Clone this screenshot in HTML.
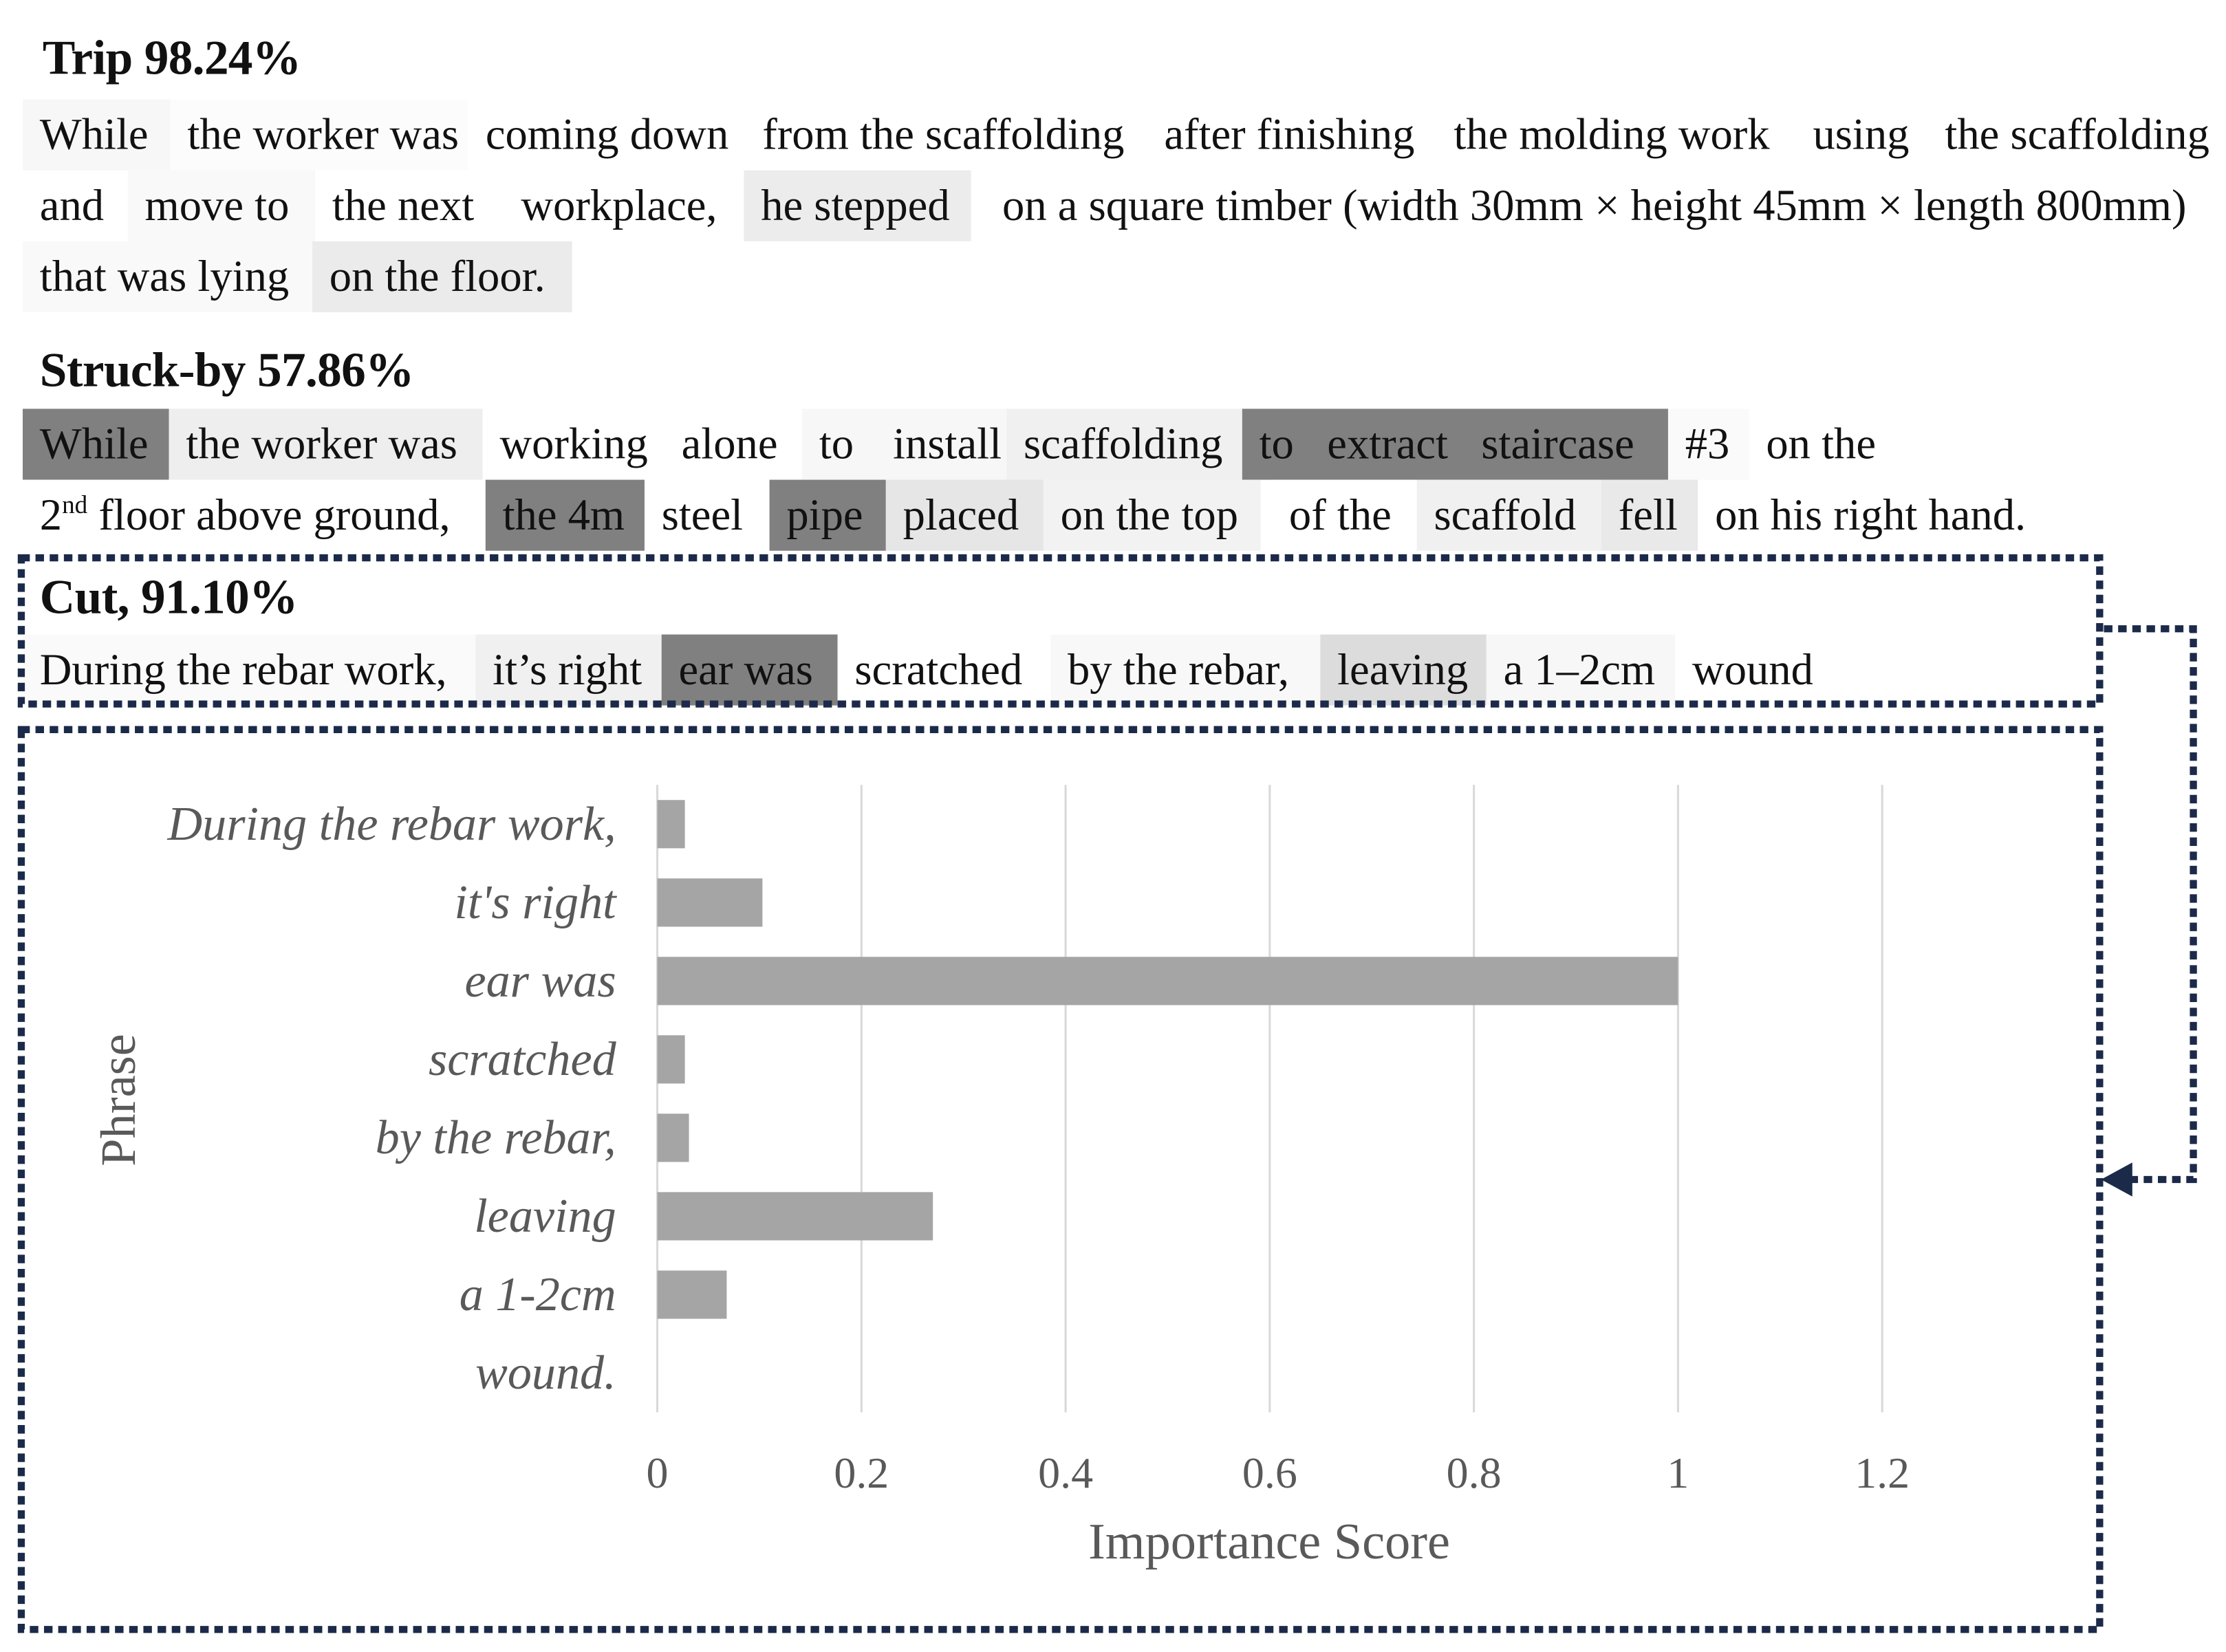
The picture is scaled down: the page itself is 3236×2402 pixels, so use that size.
<!DOCTYPE html>
<html><head><meta charset="utf-8">
<style>
html,body{margin:0;padding:0;background:#fff;width:3236px;height:2402px;overflow:hidden}
#wrap{position:absolute;left:0;top:0;width:1568px;height:1164px;transform:scale(2.0638);transform-origin:0 0;font-family:"Liberation Serif",serif;color:#111}
.t{position:absolute;font-weight:bold;font-size:34.5px;line-height:36px;white-space:nowrap;letter-spacing:-0.3px}
.w{position:absolute;height:50px;line-height:50px;font-size:31.3px;padding-left:12px;box-sizing:border-box;white-space:nowrap}
</style></head><body>
<div id="wrap">
<div class="t" style="left:30px;top:23px">Trip 98.24%</div>
<div id="rows"></div>
<div class="t" style="left:28px;top:243px">Struck-by 57.86%</div>
<div class="t" style="left:28px;top:403px">Cut, 91.10%</div>
<svg id="chart" width="1568" height="1164" style="position:absolute;left:0;top:0" font-family="Liberation Serif, serif"></svg>
</div>
<script>
const words=[
[70,16,120,'#f7f7f7','While'],[70,120,330,'#fcfcfc','the worker was'],[70,330,525,'#fff','coming down'],[70,525,805,'#fff','from the scaffolding'],[70,808,1010,'#fff','after finishing'],[70,1012,1262,'#fff','the molding work'],[70,1265,1358,'#fff','using'],[70,1358,1568,'#fff','the scaffolding'],
[120,16,90,'#fff','and'],[120,90,222,'#f9f9f9','move to'],[120,222,355,'#fff','the next'],[120,355,520,'#fff','workplace,'],[120,524,684,'#ececec','he stepped'],[120,694,1568,'#fff','on a square timber (width 30mm × height 45mm × length 800mm)'],
[170,16,220,'#f9f9f9','that was lying'],[170,220,403,'#ebebeb','on the floor.'],
[288,16,119,'#808080','While'],[288,119,340,'#eeeeee','the worker was'],[288,340,468,'#fff','working'],[288,468,565,'#fff','alone'],[288,565,617,'#f7f7f7','to'],[288,617,709,'#f7f7f7','install'],[288,709,875,'#f0f0f0','scaffolding'],[288,875,1175,'#808080','to&nbsp;&nbsp; extract&nbsp;&nbsp; staircase'],[288,1175,1232,'#fafafa','#3'],[288,1232,1340,'#fff','on the'],
[338,16,342,'#fff','2<sup style="font-size:18px;line-height:0">nd</sup> floor above ground,'],[338,342,454,'#808080','the 4m'],[338,454,542,'#fff','steel'],[338,542,624,'#808080','pipe'],[338,624,735,'#e6e6e6','placed'],[338,735,888,'#f2f2f2','on the top'],[338,896,998,'#fff','of the'],[338,998,1128,'#f0f0f0','scaffold'],[338,1128,1196,'#e9e9e9','fell'],[338,1196,1440,'#fff','on his right hand.'],
[447,16,335,'#fafafa','During the rebar work,'],[447,335,466,'#f0f0f0','it’s right'],[447,466,590,'#808080','ear was'],[447,590,740,'#fff','scratched'],[447,740,930,'#f8f8f8','by the rebar,'],[447,930,1047,'#dcdcdc','leaving'],[447,1047,1180,'#f7f7f7','a 1–2cm'],[447,1180,1290,'#fff','wound']
];
const rows=document.getElementById('rows');
words.forEach(w=>{const d=document.createElement('div');d.className='w';


d.style.top=w[0]+'px';d.style.left=w[1]+'px';d.style.width=(w[2]-w[1])+'px';d.style.background=w[3];d.innerHTML=w[4];rows.appendChild(d);});

const categories=['During the rebar work,',"it's right",'ear was','scratched','by the rebar,','leaving','a 1-2cm','wound.'];
const values=[0.027,0.103,1.0,0.027,0.031,0.27,0.068,0];
const ticks=[0,0.2,0.4,0.6,0.8,1,1.2];
const tickLabels=['0','0.2','0.4','0.6','0.8','1','1.2'];
const svg=document.getElementById('chart');const NS='http://www.w3.org/2000/svg';
function el(t,a,p){const e=document.createElementNS(NS,t);for(const k in a)e.setAttribute(k,a[k]);(p||svg).appendChild(e);return e;}
const x=v=>463+v*719;const yTop=553,yBot=995,band=(yBot-yTop)/categories.length;const y=i=>yTop+band*(i+0.5);
const dash={stroke:'#1c2a4a','stroke-width':5,'stroke-dasharray':'6 4',fill:'none'};
let b1=el('rect',Object.assign({x:15,y:393,width:1464,height:103},dash));


let b2=el('rect',Object.assign({x:15,y:514,width:1464,height:634},dash));


let con=el('polyline',Object.assign({points:'1482,443 1545,443 1545,831 1500,831'},dash));


let ar=el('polygon',{points:'1480,831 1502,819 1502,843',fill:'#1c2a4a'});


ticks.forEach((t,i)=>{
 const g=el('line',{x1:x(t),x2:x(t),y1:yTop,y2:yBot,stroke:'#d9d9d9','stroke-width':1.5});
 
 
 const l=el('text',{x:x(t),y:1048,'text-anchor':'middle','font-size':31,fill:'#595959'});l.textContent=tickLabels[i];
 
 
});
categories.forEach((c,i)=>{
 if(values[i]>0){const r=el('rect',{x:x(0),y:y(i)-17,width:x(values[i])-x(0),height:34,fill:'#a5a5a5'});
 
 }
 const l=el('text',{x:434,y:y(i)+11,'text-anchor':'end','font-size':34,'font-style':'italic',fill:'#595959'});l.textContent=c;
 
 
});
const xt=el('text',{x:894,y:1098,'text-anchor':'middle','font-size':36,fill:'#595959'});xt.textContent='Importance  Score';


const yt=el('text',{x:0,y:0,'text-anchor':'middle','font-size':35,fill:'#595959',transform:'translate(95,775) rotate(-90)'});yt.textContent='Phrase';


</script>
</body></html>
